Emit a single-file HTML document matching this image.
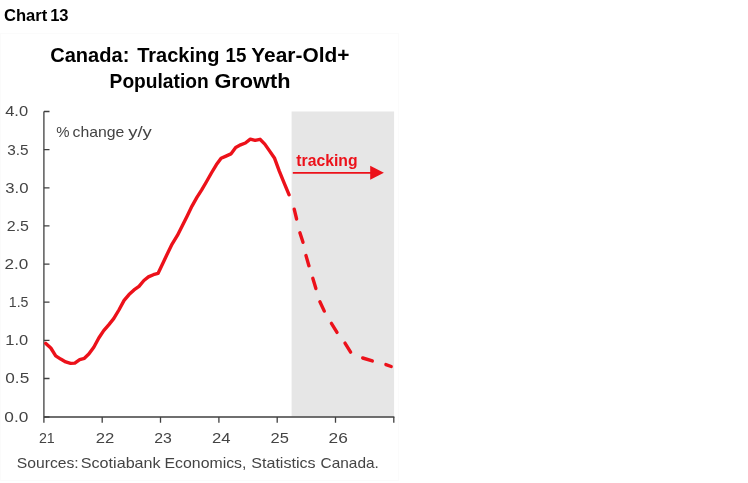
<!DOCTYPE html>
<html lang="en">
<head>
<meta charset="utf-8">
<title>Chart 13</title>
<style>
html,body{margin:0;padding:0;background:#fff;}
body{width:748px;height:483px;overflow:hidden;}
svg{display:block;}
text{font-family:"Liberation Sans",sans-serif;}
.b{font-weight:bold;fill:#000;}
.ax{fill:#444;}
.tr{fill:#ec111a;font-weight:bold;}
</style>
</head>
<body>
<svg width="748" height="483" viewBox="0 0 748 483">
<rect x="0" y="0" width="748" height="483" fill="#fff"/>
<rect x="0.5" y="33.5" width="398" height="447" fill="none" stroke="#fbfbfb" stroke-width="1"/>

<text class="b" y="21" font-size="16"><tspan x="4.02" textLength="43.3" lengthAdjust="spacingAndGlyphs">Chart</tspan> <tspan x="50.19" textLength="18.36" lengthAdjust="spacingAndGlyphs">13</tspan></text>

<text class="b" y="62.4" font-size="19.5"><tspan x="50.21" textLength="79.15" lengthAdjust="spacingAndGlyphs">Canada:</tspan> <tspan x="137.21" textLength="82.23" lengthAdjust="spacingAndGlyphs">Tracking</tspan> <tspan x="225.53" textLength="20.91" lengthAdjust="spacingAndGlyphs">15</tspan> <tspan x="251.31" textLength="98.16" lengthAdjust="spacingAndGlyphs">Year-Old+</tspan></text>
<text class="b" y="88" font-size="19.5"><tspan x="109.61" textLength="99.03" lengthAdjust="spacingAndGlyphs">Population</tspan> <tspan x="214.42" textLength="76.03" lengthAdjust="spacingAndGlyphs">Growth</tspan></text>

<!-- shaded tracking region -->
<rect x="291.6" y="111.5" width="102.5" height="305" fill="#e6e6e6"/>

<!-- axes -->
<g stroke="#404040" stroke-width="1.3" fill="none">
<path d="M43.9 111.5V422.8M43.9 417H394.4"/>
<path d="M43.9 111.5h5.6M43.9 149.6h5.6M43.9 187.8h5.6M43.9 225.9h5.6M43.9 264.1h5.6M43.9 302.2h5.6M43.9 340.4h5.6M43.9 378.5h5.6M43.9 417h5.6"/>
<path d="M102.2 417v5.8M160.5 417v5.8M218.9 417v5.8M277.2 417v5.8M335.5 417v5.8M393.8 417v5.8"/>
</g>

<!-- y labels -->
<text class="ax" x="5.16" y="116.4" font-size="14.6" textLength="22.93" lengthAdjust="spacingAndGlyphs">4.0</text>
<text class="ax" x="7.21" y="154.5" font-size="14.6" textLength="21.37" lengthAdjust="spacingAndGlyphs">3.5</text>
<text class="ax" x="5.24" y="192.7" font-size="14.6" textLength="23.26" lengthAdjust="spacingAndGlyphs">3.0</text>
<text class="ax" x="6.82" y="230.8" font-size="14.6" textLength="22.2" lengthAdjust="spacingAndGlyphs">2.5</text>
<text class="ax" x="4.54" y="269.0" font-size="14.6" textLength="23.79" lengthAdjust="spacingAndGlyphs">2.0</text>
<text class="ax" x="8.8" y="307.1" font-size="14.6" textLength="19.71" lengthAdjust="spacingAndGlyphs">1.5</text>
<text class="ax" x="5.37" y="345.3" font-size="14.6" textLength="22.91" lengthAdjust="spacingAndGlyphs">1.0</text>
<text class="ax" x="5.32" y="383.4" font-size="14.6" textLength="23.9" lengthAdjust="spacingAndGlyphs">0.5</text>
<text class="ax" x="4.3" y="421.6" font-size="14.6" textLength="24" lengthAdjust="spacingAndGlyphs">0.0</text>
<!-- x labels -->
<text class="ax" x="38.88" y="443.2" font-size="14.6" textLength="15.84" lengthAdjust="spacingAndGlyphs">21</text>
<text class="ax" x="95.66" y="443.2" font-size="14.6" textLength="18.62" lengthAdjust="spacingAndGlyphs">22</text>
<text class="ax" x="154.2" y="443.2" font-size="14.6" textLength="17.62" lengthAdjust="spacingAndGlyphs">23</text>
<text class="ax" x="211.96" y="443.2" font-size="14.6" textLength="18.56" lengthAdjust="spacingAndGlyphs">24</text>
<text class="ax" x="270.57" y="443.2" font-size="14.6" textLength="18.33" lengthAdjust="spacingAndGlyphs">25</text>
<text class="ax" x="328.54" y="443.2" font-size="14.6" textLength="19.24" lengthAdjust="spacingAndGlyphs">26</text>

<text class="ax" y="136.6" font-size="14.6"><tspan x="56.29" textLength="13.28" lengthAdjust="spacingAndGlyphs">%</tspan> <tspan x="72.64" textLength="51.76" lengthAdjust="spacingAndGlyphs">change</tspan> <tspan x="128.24" textLength="23.63" lengthAdjust="spacingAndGlyphs">y/y</tspan></text>
<text class="ax" y="467.8" font-size="14.4"><tspan x="16.84" textLength="61.89" lengthAdjust="spacingAndGlyphs">Sources:</tspan> <tspan x="80.79" textLength="79.84" lengthAdjust="spacingAndGlyphs">Scotiabank</tspan> <tspan x="164.54" textLength="81.92" lengthAdjust="spacingAndGlyphs">Economics,</tspan> <tspan x="251.23" textLength="64.4" lengthAdjust="spacingAndGlyphs">Statistics</tspan> <tspan x="320.52" textLength="58.32" lengthAdjust="spacingAndGlyphs">Canada.</tspan></text>

<!-- solid line -->
<polyline fill="none" stroke="#ec111a" stroke-width="3.4" stroke-linejoin="round" stroke-linecap="round" points="45.8,343.4 50.8,348 55.7,355.8 60.7,359.1 65.7,361.9 70.6,363.4 74.8,363.1 79.7,359.6 84.4,358.3 88.8,354.1 93.8,347.2 98.8,338 103.7,330.6 108.7,324.8 113.7,318.7 118.9,310 124.1,300.4 129,294.6 134,289.9 139,286.3 143.9,280.5 148.4,276.9 153.4,274.7 158,273.4 163,263.1 167.6,253.2 172.1,244.1 177.4,235.4 182.3,225.7 187.2,215.9 192.0,206.1 196.9,197.4 201.7,189.8 206.6,181.5 211.4,173 216.3,164.8 221.1,158.3 226.0,156.1 230.9,153.9 235.7,147.4 240.6,144.8 245.4,143 250.3,139.1 255.1,140.4 260.0,139.3 264.8,144.1 269.7,151.1 274.6,158.3 279.4,171.3 284.3,183.3 289.1,194.8"/>

<!-- dashed tracking line -->
<g stroke="#ec111a" stroke-width="3.4" stroke-linecap="round" fill="none">
<path d="M294.2 209.2L296.6 219.0"/>
<path d="M299.9 232.8L303.0 242.3"/>
<path d="M306.0 255.6L308.9 265.7"/>
<path d="M312.8 278.3L315.9 288.5"/>
<path d="M319.9 301.7L324.3 311.1"/>
<path d="M331.4 323.4L337.0 332.4"/>
<path d="M345.0 343.1L350.6 352.1"/>
<path d="M362.7 358.0L372.3 360.9"/>
<path d="M385.9 364.6L391.2 366.5"/>
</g>

<!-- arrow -->
<path d="M292.8 172.8H372" stroke="#ec111a" stroke-width="1.8" fill="none"/>
<path d="M370.2 165.8L383.9 172.8L370.2 179.8Z" fill="#ec111a"/>
<text class="tr" x="296.3" y="166" font-size="16.5" textLength="61.2" lengthAdjust="spacingAndGlyphs">tracking</text>
</svg>
</body>
</html>
